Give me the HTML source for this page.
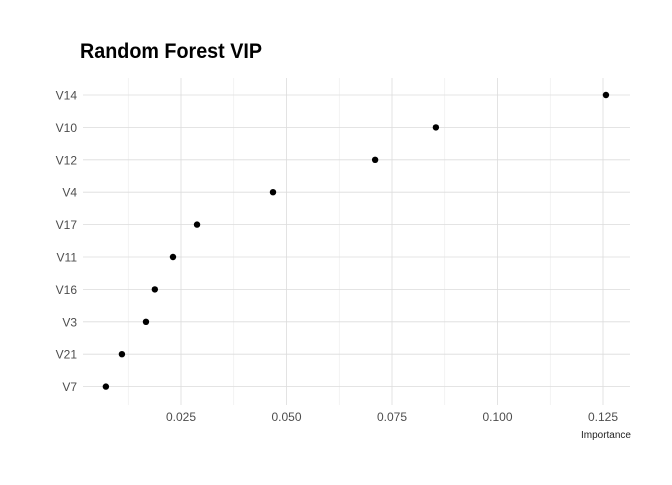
<!DOCTYPE html>
<html><head><meta charset="utf-8"><style>
body{margin:0;background:#fff;}
svg text{font-family:"Liberation Sans",sans-serif;}
</style></head><body>
<svg id="chart" width="672" height="480">
<text x="80" y="58" font-size="21" font-weight="bold" fill="#000" textLength="182" lengthAdjust="spacingAndGlyphs">Random Forest VIP</text>
<g id="grid"></g><g id="ticks"></g><g id="marks"></g>
<text x="631" y="438" font-size="10" text-anchor="end" fill="#222">Importance</text>
</svg>
<script>
const categories=["V14","V10","V12","V4","V17","V11","V16","V3","V21","V7"];
const values=[0.1257,0.0854,0.0710,0.0468,0.0288,0.0231,0.0188,0.0167,0.0110,0.0072];
const xTicks=[0.025,0.05,0.075,0.1,0.125];
const xTickLabels=["0.025","0.050","0.075","0.100","0.125"];
const NS="http://www.w3.org/2000/svg";
const L=83,R=630,T=78,B=405;
function x(v){return 181+(v-0.025)*4220;}
function y(i){return 95+i*32.4;}
function mk(tag,attrs,parent){const e=document.createElementNS(NS,tag);for(const k in attrs)e.setAttribute(k,attrs[k]);document.getElementById(parent).appendChild(e);return e;}
for(let k=0;k<xTicks.length;k++){
 const l=mk("line",{x1:x(xTicks[k]),x2:x(xTicks[k]),y1:T,y2:B,stroke:"#dcdcdc","stroke-width":0.8},"grid");
 
 
 const mv=xTicks[k]-0.0125;
 const m=mk("line",{x1:x(mv),x2:x(mv),y1:T,y2:B,stroke:"#ececec","stroke-width":0.6},"grid");
 
 
 const t=mk("text",{x:x(xTicks[k]),y:421,"font-size":12,"text-anchor":"middle",fill:"#4d4d4d"},"ticks");
 t.textContent=xTickLabels[k];
 
 
}
for(let i=0;i<categories.length;i++){
 const g=mk("line",{x1:L,x2:R,y1:y(i),y2:y(i),stroke:"#dcdcdc","stroke-width":0.8},"grid");
 
 
 const t=mk("text",{x:77,y:y(i)+4.5,"font-size":12,"text-anchor":"end",fill:"#4d4d4d"},"ticks");
 t.textContent=categories[i];
 
 
 const c=mk("circle",{cx:x(values[i]),cy:y(i),r:3.2,fill:"#000"},"marks");
 
 
}
</script>
</body></html>
